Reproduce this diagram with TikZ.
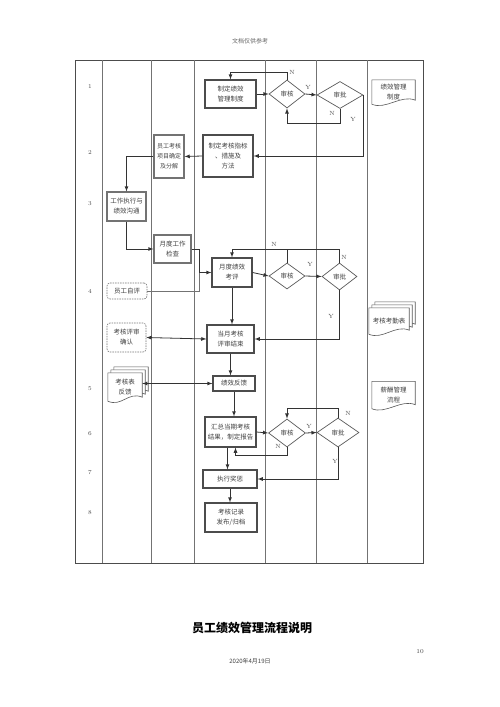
\documentclass[tikz,border=0pt]{standalone}
\usepackage{fontspec}
\newfontfamily\cjk{Noto Sans CJK SC}
\usetikzlibrary{shapes.geometric,backgrounds}

% wavy document outline round a node: node, dx, dy
\newcommand\docwave[3]{%
  \filldraw[docline] ([xshift=#2,yshift=#3]#1.south west) -- ([xshift=#2,yshift=#3]#1.north west)
    -- ([xshift=#2,yshift=#3]#1.north east) -- ([xshift=#2,yshift=#3+4]#1.south east)
    .. controls ([xshift=#2-14,yshift=#3+10]#1.south east) and ([xshift=#2+14,yshift=#3-6]#1.south west)
    .. ([xshift=#2,yshift=#3]#1.south west) -- cycle;}

\begin{document}
\begin{tikzpicture}[x=1pt,y=-1pt,>=latex,
    box/.style={draw=black!70,line width=1.1pt,align=center,inner sep=1pt,
      font=\cjk\fontsize{6.5}{10}\selectfont,text=black!75},
    dbox/.style={box,draw=black!55,line width=0.6pt,dash pattern=on 1.5pt off 1pt,rounded corners=3pt},
    dia/.style={diamond,draw=black!65,line width=0.7pt,inner sep=0pt,
      font=\cjk\fontsize{6.5}{10}\selectfont,text=black!75},
    doc/.style={align=center,inner sep=1pt,font=\cjk\fontsize{6.5}{10}\selectfont,text=black!75},
    docline/.style={draw=black!65,line width=0.6pt,fill=white},
    flow/.style={draw=black!80,line width=0.8pt},
    lab/.style={font=\fontsize{6}{6}\selectfont,text=black!70},
    rownum/.style={font=\fontsize{6}{6}\selectfont,text=black!70}]

\useasboundingbox (0,0) rectangle (500,707);

% frame and lanes
\draw[black!70,line width=0.8pt] (75,60) rectangle (423,563);
\foreach \x in {102,151,194,265,316,367}
  \draw[black!55,line width=0.6pt] (\x,60) -- (\x,563);

% row numbers
\foreach \n/\y in {1/87,2/153,3/204,4/291,5/389,6/434,7/473,8/513}
  \node[rownum] (row\n) at (90,\y) {\n};

% boxes
\node[box,minimum width=51,minimum height=28] (zdzd) at (230.5,94) {制定绩效\\管理制度};
\node[dia,minimum width=36,minimum height=28] (shA) at (287,94) {审核};
\node[dia,minimum width=46,minimum height=27] (spA) at (340,95) {审批};
\node[doc,minimum width=43,minimum height=24] (docA) at (393.5,92) {绩效管理\\制度};

\node[box,minimum width=50,minimum height=42] (zbzb) at (228,156) {制定考核指标\\、措施及\\方法};
\node[box,draw=black!55,minimum width=30,minimum height=43,inner sep=0.5pt,
  font=\cjk\fontsize{6}{10}\selectfont] (ygxm) at (169,156.5) {员工考核\\项目确定\\及分解};
\node[box,draw=black!55,minimum width=39,minimum height=29] (gzzx) at (126.5,206.5) {工作执行与\\绩效沟通};
\node[box,draw=black!55,minimum width=37,minimum height=28] (ydjc) at (172.5,249) {月度工作\\检查};
\node[dbox,minimum width=40,minimum height=16] (ygzp) at (127,291) {员工自评};
\node[box,minimum width=40,minimum height=29] (ydkp) at (232,272.5) {月度绩效\\考评};
\node[dia,minimum width=36,minimum height=26] (shB) at (287,276) {审核};
\node[dia,minimum width=35,minimum height=27] (spB) at (339.5,276.5) {审批};
\node[doc,minimum width=40,minimum height=26] (docB) at (389,321) {考核考勤表};

\node[dbox,minimum width=39,minimum height=29] (psqr) at (126.5,337.5) {考核评审\\确认};
\node[box,minimum width=47,minimum height=28] (dyjs) at (230.5,339) {当月考核\\评审结束};
\node[box,minimum width=42,minimum height=15] (jxfk) at (234,383.5) {绩效反馈};
\node[doc,minimum width=34,minimum height=28] (docC) at (125,387) {考核表\\反馈};
\node[doc,minimum width=43,minimum height=27] (docD) at (393.5,395) {薪酬管理\\流程};

\node[box,minimum width=51,minimum height=30] (hzbg) at (230.5,432) {汇总当期考核\\结果，制定报告};
\node[dia,minimum width=37,minimum height=28] (shC) at (287,433) {审核};
\node[dia,minimum width=42,minimum height=29] (spC) at (338,432.5) {审批};
\node[box,minimum width=54,minimum height=18] (zxjc) at (230,479) {执行奖惩};
\node[box,minimum width=52,minimum height=29] (khjl) at (231,517.5) {考核记录\\发布/归档};

% document outlines
\begin{scope}[on background layer]
  \docwave{docA}{0}{0}
  \docwave{docB}{6}{6}
  \docwave{docB}{3}{3}
  \docwave{docB}{0}{0}
  \docwave{docC}{6}{6}
  \docwave{docC}{3}{3}
  \docwave{docC}{0}{0}
  \docwave{docD}{0}{0}
\end{scope}

% row 1
\draw[flow,->] (zdzd.east) -- (shA.west);
\draw[flow,->] (shA.east) -- (spA.west);
\node[lab] (yA) at (308,87) {Y};
\draw[flow,->] (shA.north) -- ++(0,-7) -| (zdzd.north);
\node[lab] (nA) at (292,72) {N};
\draw[flow,->] (spA.south) -- ++(0,15) -| (shA.south);
\node[lab] (nA2) at (332,113) {N};
\draw[flow,->] (spA.east) |- (zbzb.east);
\node[lab] (yA2) at (353,119) {Y};

% rows 2 to 4
\draw[flow,->] (zbzb.west) -- (ygxm.east);
\draw[flow,->] (ygxm.west) -| (gzzx.north);
\draw[flow,->] (gzzx.south) |- (ydjc.west);
\coordinate (hebing) at (199,272.5);
\draw[flow] (ydjc.east) -| (hebing);
\draw[flow,black!55,line width=0.6pt] (ygzp.east) -| (hebing);
\draw[flow,->] (hebing) -- (ydkp.west);
\draw[flow,->] (ydkp.east) -- (shB.west);
\draw[flow,->] (shB.east) -- (spB.west);
\node[lab] (yB) at (310,264) {Y};
\draw[flow] (shB.north) -- ++(0,-13);
\draw[flow,->] (spB.north) -- ++(0,-13) -| (ydkp.north);
\node[lab] (nB) at (274,244) {N};
\node[lab] (nB2) at (344,257) {N};
\draw[flow,->] (spB.south) |- (dyjs.east);
\node[lab] (yB2) at (331,316) {Y};
\draw[flow,->] (ydkp.south) -- (ydkp.south |- dyjs.north);

% row 5
\draw[flow,<->] (psqr.east) -- (dyjs.west);
\draw[flow,->] (dyjs.south) -- (dyjs.south |- jxfk.north);
\draw[flow,<->] (docC.east |- jxfk.west) -- (jxfk.west);
\draw[flow,->] (jxfk.south) -- (jxfk.south |- hzbg.north);

% rows 6 to 8
\draw[flow,->] (hzbg.east) -- (shC.west);
\draw[flow,->] (shC.east) -- (spC.west);
\node[lab] (yC) at (309,426) {Y};
\draw[flow,->] (spC.north) -- ++(0,-9) -| (shC.north);
\node[lab] (nC) at (348,413) {N};
\draw[flow,->] (shC.south) -- ++(0,8) -| ([xshift=5]hzbg.south);
\node[lab] (nC2) at (278,446) {N};
\draw[flow,->] ([xshift=-3]hzbg.south) -- ([xshift=-3]hzbg.south |- zxjc.north);
\draw[flow,->] (spC.south) |- (zxjc.east);
\node[lab] (yC2) at (335,461) {Y};
\draw[flow,->] (zxjc.south) -- (zxjc.south |- khjl.north);

% page texts
\node[font=\cjk\fontsize{6}{6}\selectfont,text=black!60] (kopf) at (250,41) {文档仅供参考};
\node[font=\cjk\bfseries\fontsize{12}{12}\selectfont] (titel) at (252,628) {员工绩效管理流程说明};
\node[font=\fontsize{6}{6}\selectfont,text=black!75] (seite) at (420,652) {10};
\node[font=\cjk\fontsize{6}{6}\selectfont,text=black!75] (datum) at (250,661) {2020年4月19日};
\end{tikzpicture}
\end{document}
